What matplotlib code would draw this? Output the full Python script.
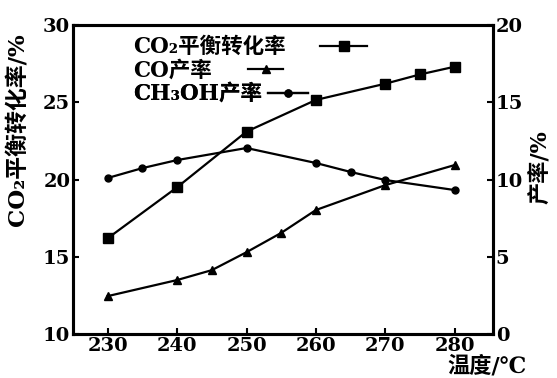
import numpy as np
import matplotlib.pyplot as plt

plt.rcParams['font.family'] = ['DejaVu Serif', 'Noto Sans CJK SC']
plt.rcParams['font.weight'] = 'bold'
plt.rcParams['axes.labelweight'] = 'bold'

# 数据
temp_co2 = [230, 240, 250, 260, 270, 275, 280]
co2_conv = [16.2, 19.5, 23.1, 25.15, 26.2, 26.8, 27.3]

temp_co = [230, 240, 245, 250, 255, 260, 270, 280]
co_yield = [2.46, 3.5, 4.14, 5.3, 6.55, 8.03, 9.64, 10.94]

temp_ch3oh = [230, 235, 240, 250, 260, 265, 270, 280]
ch3oh_yield = [10.1, 10.74, 11.26, 12.04, 11.07, 10.49, 9.97, 9.32]

x_ticks = [230, 240, 250, 260, 270, 280]
left_ticks = [10, 15, 20, 25, 30]
right_ticks = [0, 5, 10, 15, 20]

fig = plt.figure(figsize=(5.57, 3.78), dpi=100)
ax = fig.add_axes([0.131, 0.116, 0.754, 0.818])
ax2 = ax.twinx()

l1, = ax.plot(temp_co2, co2_conv, color='black', lw=1.6, marker='s', ms=7)
l2, = ax2.plot(temp_co, co_yield, color='black', lw=1.6, marker='^', ms=5.5)
l3, = ax2.plot(temp_ch3oh, ch3oh_yield, color='black', lw=1.6, marker='o', ms=5)

ax.set_xlim(225, 285.5)
ax.set_ylim(10, 30)
ax2.set_ylim(0, 20)
ax.set_xticks(x_ticks)
ax.set_yticks(left_ticks)
ax2.set_yticks(right_ticks)

for a in (ax, ax2):
    for s in a.spines.values():
        s.set_linewidth(2.2)
    a.tick_params(direction='in', length=4, width=1.5, labelsize=14, pad=2)

ax.set_ylabel('CO₂平衡转化率/%', fontsize=16.5)
ax.yaxis.set_label_coords(-0.105, 0.66)
ax2.set_ylabel('产率/%', fontsize=16)
ax2.yaxis.set_label_coords(1.085, 0.54)
ax.set_xlabel('温度/℃', fontsize=16)
ax.xaxis.set_label_coords(0.985, -0.07)

legs = [
    (l1, 'CO₂平衡转化率', 0.964, 2.2, 1.6),
    (l2, 'CO产率', 0.887, 1.6, 1.7),
    (l3, 'CH₃OH产率', 0.812, 1.85, 0.3),
]
for line, label, ytop, hl, tp in legs:
    lg = ax2.legend([line], [label], loc='upper left', bbox_to_anchor=(0.143, ytop),
                    frameon=False, markerfirst=False, borderpad=0, borderaxespad=0,
                    handlelength=hl, handletextpad=tp, fontsize=15.5)
    ax2.add_artist(lg)

fig.savefig('out.png', dpi=100)
